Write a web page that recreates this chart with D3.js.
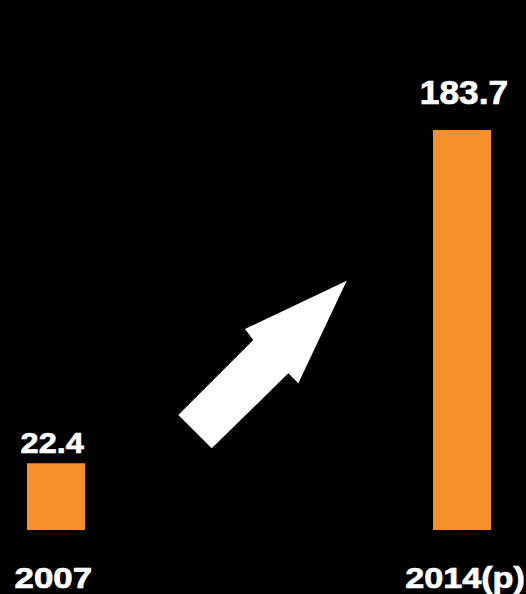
<!DOCTYPE html>
<html>
<head>
<meta charset="utf-8">
<script src="https://cdn.jsdelivr.net/npm/d3@7"></script>
<style>
  html, body { margin: 0; padding: 0; background: #000; }
  svg { display: block; }
</style>
</head>
<body>
<script>
// Chart data
const categories = ["2007", "2014(p)"];
const values = [22.4, 183.7];
const valueLabels = ["22.4", "183.7"];

const W = 526, H = 594;
const barColor = "#f7902a";

const svg = d3.select("body").append("svg")
  .attr("width", W)
  .attr("height", H)
  .style("background", "#000");

// Bar centres along x
const x = d3.scalePoint()
  .domain(categories)
  .range([56, 462]);
const barWidth = 58;

// Value axis (baseline sits a little below zero)
const y = d3.scaleLinear()
  .domain([-9.9, 183.7])
  .range([530, 130]);

const data = categories.map((c, i) => ({ cat: c, value: values[i], label: valueLabels[i] }));

svg.selectAll("rect.bar")
  .data(data)
  .join("rect")
  .attr("class", "bar")
  .attr("x", d => x(d.cat) - barWidth / 2)
  .attr("width", barWidth)
  .attr("y", d => y(d.value))
  .attr("height", d => y.range()[0] - y(d.value))
  .attr("fill", barColor);

// Wide, heavy lettering
function wideText(sel) {
  sel.attr("fill", "#fff")
    .attr("stroke", "#fff")
    .attr("stroke-width", 0.7)
    .attr("font-family", "'Liberation Sans', Arial, Helvetica, sans-serif")
    .attr("font-weight", "bold")
    .attr("text-anchor", "middle");
}

// Per-label typesetting: offset from bar centre, gap above bar, size, horizontal stretch
const valueStyle = {
  "2007":    { dx: -3.8, gap: 10.3, size: 29, sx: 1.12 },
  "2014(p)": { dx: 2,    gap: 26,   size: 33, sx: 1.07 }
};
const catStyle = {
  "2007":    { dx: -2.7, size: 29, sx: 1.2 },
  "2014(p)": { dx: 3,    size: 30, sx: 1.14 }
};

// Value labels above the bars
svg.selectAll("text.value")
  .data(data)
  .join("text")
  .attr("class", "value")
  .call(wideText)
  .attr("font-size", d => valueStyle[d.cat].size)
  .attr("transform", d => {
    const s = valueStyle[d.cat];
    return `translate(${x(d.cat) + s.dx},${y(d.value) - s.gap}) scale(${s.sx},1)`;
  })
  .text(d => d.label);

// Category labels under the bars
svg.selectAll("text.cat")
  .data(data)
  .join("text")
  .attr("class", "cat")
  .call(wideText)
  .attr("font-size", d => catStyle[d.cat].size)
  .attr("transform", d => {
    const s = catStyle[d.cat];
    return `translate(${x(d.cat) + s.dx},588) scale(${s.sx},1)`;
  })
  .text(d => d.cat);

// Rising arrow between the bars
const arrowPts = [
  [346.7, 280.7],
  [298.3, 383.3],
  [288.3, 373.3],
  [211.7, 448.3],
  [178.3, 415],
  [253.3, 340],
  [245, 329]
];
svg.append("path")
  .attr("d", d3.line()(arrowPts) + "Z")
  .attr("fill", "#fff");
</script>
</body>
</html>
